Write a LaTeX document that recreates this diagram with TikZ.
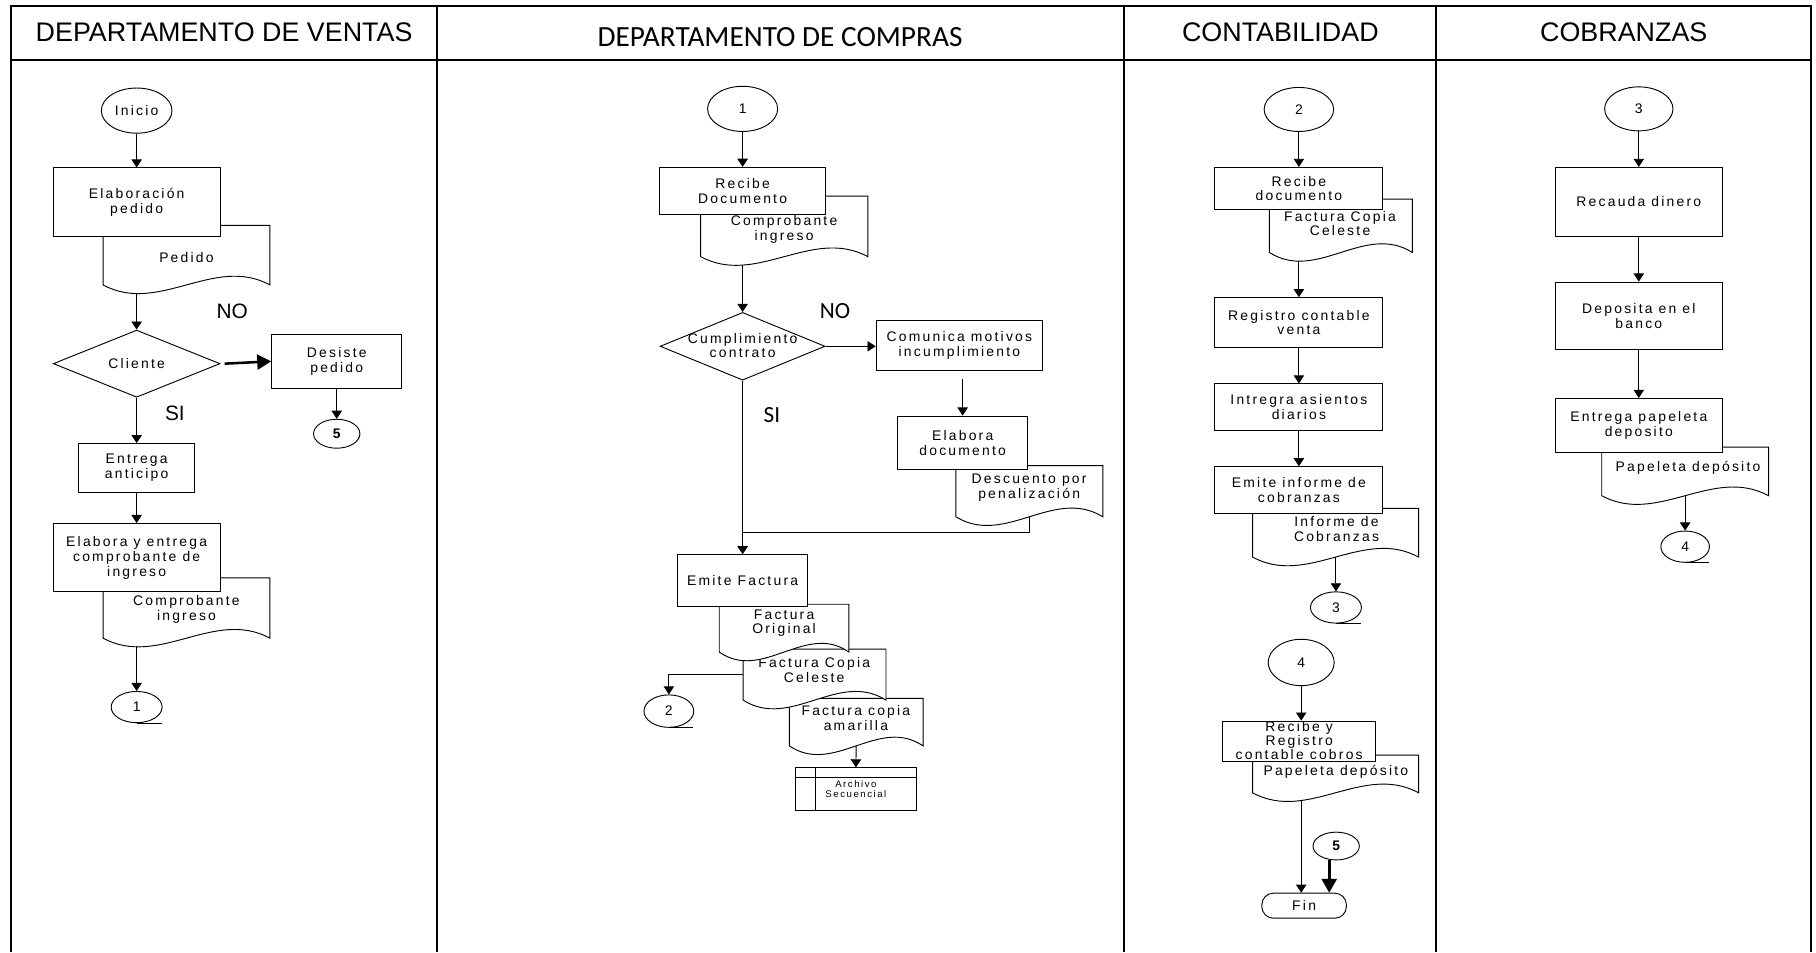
\documentclass[tikz,border=0pt]{standalone}
\usepackage{fontspec}
\setmainfont{Liberation Sans}
\newfontfamily\nodefont[LetterSpace=16]{Liberation Sans}
\newfontfamily\calibrifont{Carlito}
\usetikzlibrary{shapes.geometric,arrows.meta}

% Document symbol: straight top and sides, wavy bottom edge.
% #1 name, #2 left, #3 top, #4 right, #5 bottom corners, #6/#7 text position, #8 text
\newcommand\flowdoc[8]{%
  \draw[docline] (#2,#3) -- (#4,#3) -- (#4,#5)
    .. controls ({#4-(#4-#2)/3},{#5-26}) and ({#2+(#4-#2)/3},{#5+26}) .. (#2,#5) -- cycle;
  \node[docarea, minimum width={#4-#2}, minimum height={#5-#3}] (#1) at ({(#2+#4)/2},{(#3+#5)/2}) {};
  \node[ntext] (#1-t) at (#6,#7) {#8};
}

\begin{document}
\begin{tikzpicture}[x=1pt,y=-1pt,
  laneframe/.style={line width=1.7pt},
  lanehead/.style={font=\fontsize{23.2}{27}\selectfont, inner sep=0pt},
  ntext/.style={font=\nodefont\fontsize{12}{12.8}\selectfont, align=center, inner sep=0pt},
  tinytxt/.style={font=\nodefont\fontsize{8.3}{8.8}\selectfont, align=center, inner sep=0pt},
  wh/.style 2 args={minimum width=#1, minimum height=#2},
  proc/.style={ntext, draw, fill=white, rectangle, line width=0.8pt},
  offpage/.style={ntext, draw, fill=white, ellipse, line width=0.8pt},
  decision/.style={draw, fill=white, diamond, inner sep=0pt, line width=0.8pt},
  docline/.style={draw, fill=white, line width=0.8pt},
  docarea/.style={inner sep=0pt, rectangle},
  terminal/.style={ntext, draw, fill=white, rectangle, rounded corners=10pt, line width=0.8pt},
  wire/.style={line width=0.8pt},
  arr/.style={wire, -{Triangle[length=7pt,width=9pt]}},
  thickarr/.style={line width=2.2pt, -{Triangle[length=12pt,width=13pt]}},
  branchlab/.style={font=\fontsize{18}{20}\selectfont, inner sep=0pt},
  branchlabc/.style={font=\calibrifont\fontsize{20}{22}\selectfont, inner sep=0pt},
]
\useasboundingbox (0,0) rectangle (1568,822);

% ---------- swimlane frame ----------
\draw[laneframe] (9.5,822) -- (9.5,5.5) -- (1564,5.5) -- (1564,822);
\draw[laneframe] (9.5,51.5) -- (1564,51.5);
\draw[laneframe] (377,5.5) -- (377,822);
\draw[laneframe] (970.5,5.5) -- (970.5,822);
\draw[laneframe] (1240,5.5) -- (1240,822);

\node[lanehead] (hv) at (193.5,27.8) {DEPARTAMENTO DE VENTAS};
\node[lanehead, font=\calibrifont\fontsize{25.3}{30}\selectfont] (hc) at (673.5,32) {DEPARTAMENTO DE COMPRAS};
\node[lanehead] (hk) at (1105.5,27.8) {CONTABILIDAD};
\node[lanehead] (hb) at (1402,27.8) {COBRANZAS};

% ---------- Departamento de ventas ----------
\node[offpage, wh={61}{39}] (inicio) at (118,95.5) {Inicio};
\flowdoc{pedido}{89}{194.6}{233}{246}{161}{222}{Pedido}
\node[proc, wh={144}{59}] (elab) at (118,174.5) {Elaboración\\pedido};
\node[decision, wh={144}{58}] (cliente) at (118,314) {};
\node[ntext] (cliente-t) at (118,314) {Cliente};
\node[proc, wh={112.5}{46}] (desiste) at (290.75,312) {Desiste\\pedido};
\node[offpage, wh={40}{25}] (c5a) at (290.75,374.5) {\bfseries 5};
\node[proc, wh={100}{42}] (anticipo) at (118,404) {Entrega\\anticipo};
\flowdoc{compv}{89}{499}{233}{551}{161}{526}{Comprobante\\ingreso}
\node[proc, wh={144}{59}] (elabent) at (118,481.5) {Elabora y entrega\\comprobante de\\ingreso};
\node[offpage, wh={44}{27}] (c1a) at (118,610.5) {1};
\node[branchlab] (no1) at (200.5,268.5) {NO};
\node[branchlab] (si1) at (151,357) {SI};

\draw[arr] (inicio.south) -- (elab.north);
\draw[arr, shorten <=7pt] (pedido.south -| elab) -- (cliente.north);
\draw[thickarr] ([xshift=3.5pt]cliente.east) -- (desiste.west);
\draw[arr] (desiste.south) -- (c5a.north);
\draw[arr] (cliente.south) -- (anticipo.north);
\draw[arr] (anticipo.south) -- (elabent.north);
\draw[arr, shorten <=7pt] (compv.south -| elabent) -- (c1a.north);
\draw[wire] (c1a.south) -- ++(22,0);

% ---------- Departamento de compras ----------
\node[offpage, wh={60.5}{39}] (c1b) at (641.2,94) {1};
\flowdoc{compc}{605}{169.3}{749.3}{221.6}{677}{197.8}{Comprobante\\ingreso}
\node[proc, wh={143.6}{40.3}] (recibe) at (641.2,164.6) {Recibe\\Documento};
\node[decision, wh={142.4}{58.5}] (cumpl) at (641.2,299) {};
\node[ntext] (cumpl-t) at (641.2,298.4) {Cumplimiento\\contrato};
\node[proc, wh={143.9}{43.2}] (comunica) at (828.4,298.5) {Comunica motivos\\incumplimiento};
\flowdoc{desc}{825.3}{402.1}{952.2}{446.2}{888.6}{421}{Descuento por\\penalización}
\node[proc, wh={112}{46.1}] (elabdoc) at (831.2,382.25) {Elabora\\documento};
\coordinate (merge) at (641.2,459.4);
\flowdoc{fama}{681.5}{603}{797}{644}{739}{620}{Factura copia\\amarilla}
\flowdoc{fcel}{641.6}{560.5}{765}{604.5}{703}{578.6}{Factura Copia\\Celeste}
\flowdoc{forig}{621}{521.7}{733}{563}{677}{538}{Factura\\Original}
\node[proc, wh={112.3}{45}] (emite) at (641.2,501.5) {Emite Factura};
\node[offpage, wh={43}{28}] (c2a) at (577.5,614) {2};
\node[proc, wh={104}{36.5}] (archivo) at (739,681.25) {};
\draw[wire] ([xshift=17.6pt]archivo.north west) -- ([xshift=17.6pt]archivo.south west);
\draw[wire] ([yshift=-9pt]archivo.north west) -- ([yshift=-9pt]archivo.north east);
\node[tinytxt] (archivo-t) at (739,681.5) {Archivo\\Secuencial};
\node[branchlabc] (no2) at (721,269) {NO};
\node[branchlabc] (si2) at (666.5,358) {SI};

\draw[arr] (c1b.south) -- (recibe.north);
\draw[arr, shorten <=7pt] (compc.south -| recibe) -- (cumpl.north);
\draw[arr] (cumpl.east) -- (cumpl.east -| comunica.west);
\draw[arr, shorten <=7pt] (comunica.south -| elabdoc) -- (elabdoc.north);
\draw[wire] (desc.south) |- (merge);
\draw[arr] (cumpl.south) -- (emite.north);
\draw[arr] (fcel.west) -| (c2a.north);
\draw[wire] (c2a.south) -- ++(21,0);
\draw[arr] (fama.south) -- (archivo.north);

% ---------- Contabilidad ----------
\node[offpage, wh={60}{38}] (c2b) at (1121.5,94.5) {2};
\flowdoc{fcc}{1096}{172}{1219.5}{218}{1157}{193}{Factura Copia\\Celeste}
\node[proc, wh={145}{36.5}] (recibe2) at (1121.5,162.75) {Recibe\\documento};
\node[proc, wh={145}{43}] (registro) at (1121.5,278.5) {Registro contable\\venta};
\node[proc, wh={145}{40.5}] (intregra) at (1121.5,351.75) {Intregra asientos\\diarios};
\flowdoc{inf}{1081.5}{439}{1224.8}{481}{1154}{457}{Informe de\\Cobranzas}
\node[proc, wh={145}{40}] (emiteinf) at (1121.5,423) {Emite informe de\\cobranzas};
\node[offpage, wh={44}{27}] (c3a) at (1153.5,524.5) {3};
\node[offpage, wh={57}{40}] (c4a) at (1123.5,572) {4};
\flowdoc{papa}{1081.5}{652}{1224.8}{684.5}{1153.4}{666.4}{Papeleta depósito}
\node[proc, wh={132.5}{34.6}] (recreg) at (1121.75,639.9) {};
\node[ntext, font=\nodefont\fontsize{12}{12.2}\selectfont] (recreg-t) at (1121.75,639.5) {Recibe y\\Registro\\contable cobros};
\node[terminal, wh={73}{21.6}] (fin) at (1126,782) {Fin};
\node[offpage, wh={40}{24}] (c5b) at (1153.7,730.5) {\bfseries 5};

\draw[arr] (c2b.south) -- (recibe2.north);
\draw[arr, shorten <=7pt] (fcc.south -| registro) -- (registro.north);
\draw[arr] (registro.south) -- (intregra.north);
\draw[arr] (intregra.south) -- (emiteinf.north);
\draw[arr] (inf.south -| c3a) -- (c3a.north);
\draw[wire] (c3a.south) -- ++(22,0);
\draw[arr] (c4a.south) -- (c4a.south |- recreg.north);
\draw[arr, shorten <=7pt] (papa.south -| c4a) -- (c4a |- fin.north);
\draw[thickarr] ([xshift=-6pt]c5b.south) -- ([xshift=-6pt]c5b.south |- fin.north);

% ---------- Cobranzas ----------
\node[offpage, wh={59}{38}] (c3b) at (1415,94) {3};
\node[proc, wh={144}{59.5}] (recauda) at (1415,174.25) {Recauda dinero};
\node[proc, wh={144}{58.5}] (deposita) at (1415,272.75) {Deposita en el\\banco};
\flowdoc{papc}{1383}{386}{1527}{428}{1457.5}{404}{Papeleta depósito}
\node[proc, wh={144}{47}] (entregap) at (1415,367.5) {Entrega papeleta\\deposito};
\node[offpage, wh={42}{27}] (c4b) at (1455,472) {4};

\draw[arr] (c3b.south) -- (recauda.north);
\draw[arr] (recauda.south) -- (deposita.north);
\draw[arr] (deposita.south) -- (entregap.north);
\draw[arr] (papc.south -| c4b) -- (c4b.north);
\draw[wire] (c4b.south) -- ++(21,0);
\end{tikzpicture}
\end{document}
